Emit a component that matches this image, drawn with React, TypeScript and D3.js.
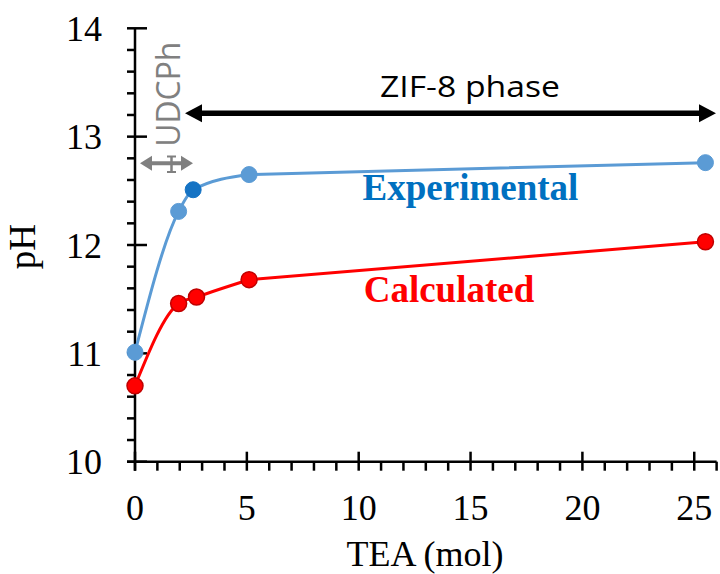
import React, { useEffect } from "react";
import * as d3 from "d3";

const expX = [0, 1.95, 2.6, 5.1, 25.5];
const expPH = [11.01, 12.31, 12.51, 12.65, 12.76];
const calcX = [0, 1.95, 2.75, 5.1, 25.5];
const calcPH = [10.7, 11.46, 11.52, 11.68, 12.03];
const xTicks = [0, 5, 10, 15, 20, 25];
const yTicks = [10, 11, 12, 13, 14];
const highlightedExpIndex = 2;

export default function App() {
  useEffect(() => {
    document.body.style.margin = "0";
  }, []);

  const W = 720;
  const H = 574;
  const x = d3.scaleLinear().domain([0, 26]).range([135, 135 + 26 * 22.37]);
  const y = d3.scaleLinear().domain([10, 14]).range([461.7, 28.3]);

  const smooth = d3
    .line<[number, number]>()
    .x((d) => x(d[0]))
    .y((d) => y(d[1]))
    .curve(d3.curveMonotoneX);
  const straight = d3
    .line<[number, number]>()
    .x((d) => x(d[0]))
    .y((d) => y(d[1]));

  const expPts: [number, number][] = expX.map((v, i) => [v, expPH[i]]);
  const calcPts: [number, number][] = calcX.map((v, i) => [v, calcPH[i]]);

  const seriesPath = (pts: [number, number][]) =>
    (smooth(pts.slice(0, pts.length - 1)) || "") + " " + (straight(pts.slice(pts.length - 2)) || "");

  const xMinor = d3.range(0, 27, 1).filter((v) => v % 5 !== 0);
  const yMinor = d3.range(10, 14.0001, 0.2).filter((v) => Math.abs(v - Math.round(v)) > 0.01);

  const serif = "'Liberation Serif', 'Times New Roman', serif";
  const sans = "'Open Sans', 'Liberation Sans', sans-serif";
  const axisColor = "#000";
  const aw = 2.5;

  const arrowY = 113.3;
  const arrowL = 185;
  const arrowR = 716;
  const headLen = 17;
  const headHalf = 9;

  const gY = 163.3;
  const gL = 140;
  const gR = 193;
  const gHead = 12;
  const gHalf = 7.5;

  return (
    <svg width={W} height={H} style={{ display: "block", background: "#fff" }}>
      {/* Y axis */}
      <line x1={x(0)} x2={x(0)} y1={y(14)} y2={y(10) + 9} stroke={axisColor} strokeWidth={aw} />
      {yTicks.map((t) => (
        <line key={"ym" + t} x1={x(0) - 8} x2={x(0) + 12} y1={y(t)} y2={y(t)} stroke={axisColor} strokeWidth={aw} />
      ))}
      {yMinor.map((t, i) => (
        <line key={"yn" + i} x1={x(0) - 8} x2={x(0)} y1={y(t)} y2={y(t)} stroke={axisColor} strokeWidth={aw} />
      ))}
      {yTicks.map((t) => (
        <text key={"yl" + t} x={102} y={y(t)} dy="0.35em" textAnchor="end" fontFamily={serif} fontSize={36} fill="#000">
          {t}
        </text>
      ))}

      {/* X axis */}
      <line x1={x(0) - 8} x2={x(26)} y1={y(10)} y2={y(10)} stroke={axisColor} strokeWidth={aw} />
      {xTicks.map((t) => (
        <line key={"xm" + t} x1={x(t)} x2={x(t)} y1={y(10) - 10} y2={y(10) + 9} stroke={axisColor} strokeWidth={aw} />
      ))}
      {xMinor.map((t) => (
        <line key={"xn" + t} x1={x(t)} x2={x(t)} y1={y(10)} y2={y(10) + 9} stroke={axisColor} strokeWidth={aw} />
      ))}
      {xTicks.map((t) => (
        <text key={"xl" + t} x={x(t)} y={519.5} textAnchor="middle" fontFamily={serif} fontSize={36} fill="#000">
          {t}
        </text>
      ))}

      {/* Axis titles */}
      <text x={425} y={566} textAnchor="middle" fontFamily={serif} fontSize={36} fill="#000">
        TEA (mol)
      </text>
      <text transform={`translate(35, 246.7) rotate(-90)`} textAnchor="middle" fontFamily={serif} fontSize={37} fill="#000">
        pH
      </text>

      {/* Lines */}
      <path d={seriesPath(expPts)} fill="none" stroke="#5B9BD5" strokeWidth={3} strokeLinejoin="round" />
      <path d={seriesPath(calcPts)} fill="none" stroke="#FF0000" strokeWidth={3} strokeLinejoin="round" />

      {/* Markers */}
      {expPts.map((d, i) => (
        <circle
          key={"e" + i}
          cx={x(d[0])}
          cy={y(d[1])}
          r={8}
          fill={i === highlightedExpIndex ? "#1573C4" : "#5B9BD5"}
          stroke={i === highlightedExpIndex ? "#1573C4" : "#5B9BD5"}
          strokeWidth={1}
        />
      ))}
      {calcPts.map((d, i) => (
        <circle key={"c" + i} cx={x(d[0])} cy={y(d[1])} r={8} fill="#FF0000" stroke="#C00000" strokeWidth={1.5} />
      ))}

      {/* Series labels */}
      <text x={470.5} y={200} textAnchor="middle" fontFamily={serif} fontWeight="bold" fontSize={37} fill="#0070C0">
        Experimental
      </text>
      <text x={449} y={301.5} textAnchor="middle" fontFamily={serif} fontWeight="bold" fontSize={37} fill="#FF0000">
        Calculated
      </text>

      {/* ZIF-8 phase arrow */}
      <line x1={arrowL + headLen - 2} x2={arrowR - headLen + 2} y1={arrowY} y2={arrowY} stroke="#000" strokeWidth={5.5} />
      <path
        d={`M${arrowL},${arrowY} L${arrowL + headLen},${arrowY - headHalf} L${arrowL + headLen},${arrowY + headHalf} Z`}
        fill="#000"
      />
      <path
        d={`M${arrowR},${arrowY} L${arrowR - headLen},${arrowY - headHalf} L${arrowR - headLen},${arrowY + headHalf} Z`}
        fill="#000"
      />
      <text x={470} y={97} textAnchor="middle" fontFamily={sans} fontSize={29} fontWeight={500} textLength={180} lengthAdjust="spacingAndGlyphs" fill="#000">
        ZIF-8 phase
      </text>

      {/* UDCPh arrow */}
      <line x1={gL + gHead - 2} x2={gR - gHead + 2} y1={gY} y2={gY} stroke="#808080" strokeWidth={4} />
      <path d={`M${gL},${gY} L${gL + gHead},${gY - gHalf} L${gL + gHead},${gY + gHalf} Z`} fill="#808080" />
      <path d={`M${gR},${gY} L${gR - gHead},${gY - gHalf} L${gR - gHead},${gY + gHalf} Z`} fill="#808080" />
      <line x1={171.5} x2={171.5} y1={156} y2={172.5} stroke="#808080" strokeWidth={2.5} />
      <line x1={167} x2={176} y1={156.5} y2={156.5} stroke="#808080" strokeWidth={2} />
      <line x1={167} x2={176} y1={172} y2={172} stroke="#808080" strokeWidth={2} />
      <text
        transform={`translate(180, 94.2) rotate(-90)`}
        textAnchor="middle"
        fontFamily={sans}
        fontSize={33}
        fontWeight={500}
        textLength={105}
        lengthAdjust="spacingAndGlyphs"
        fill="#808080"
      >
        UDCPh
      </text>
    </svg>
  );
}
